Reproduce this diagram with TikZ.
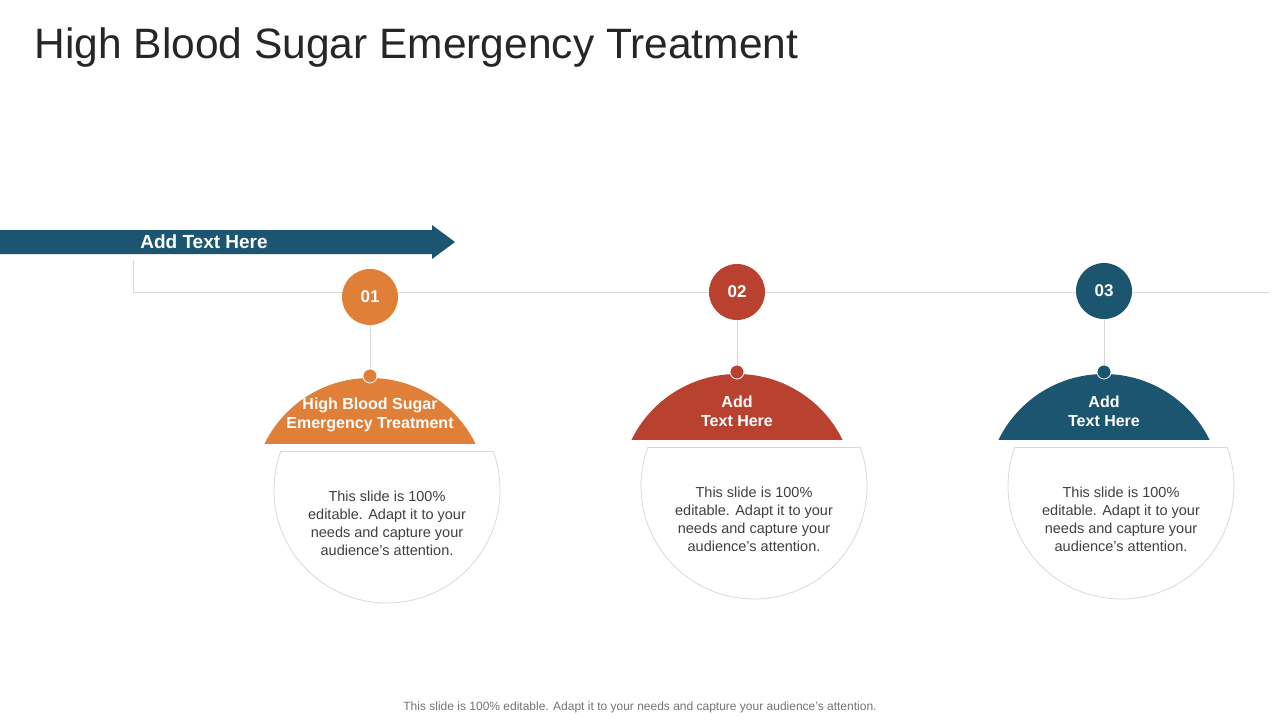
\documentclass[tikz,border=0pt]{standalone}
\usepackage{fontspec}
\setmainfont{Liberation Sans}
\usetikzlibrary{positioning,calc}
\definecolor{corange}{HTML}{E07F38}
\definecolor{cred}{HTML}{B94130}
\definecolor{cblue}{HTML}{1B5570}
\definecolor{ctext}{HTML}{404040}
\definecolor{cline}{HTML}{D9D9D9}
\begin{document}
\begin{tikzpicture}[x=1pt,y=-1pt,
    num/.style={circle, minimum size=56pt, inner sep=0pt, text=white,
                font=\fontsize{17}{20}\selectfont\bfseries},
    dot/.style={circle, draw=white, line width=0.8pt, minimum size=14pt, inner sep=0pt},
    dtxt/.style={align=center, text=white, font=\fontsize{16}{19}\selectfont\bfseries},
    btxt/.style={align=center, text=ctext, font=\fontsize{14.5}{18}\selectfont},
    ln/.style={draw=cline, line width=0.8pt},
]
\useasboundingbox (0,0) rectangle (1280,720);

% === Title ===
\node[anchor=west, text=black!85, font=\fontsize{42.5}{48}\selectfont] (title) at (31,48) {High Blood Sugar Emergency Treatment};

% === Arrow banner ===
\fill[cblue] (0,230) -- (432,230) -- (432,225) -- (455,242) -- (432,259) -- (432,254) -- (0,254) -- cycle;
\node[text=white, font=\fontsize{19}{22}\selectfont\bfseries] (head) at (204,242) {Add Text Here};

% --- timeline ---
\coordinate (t0) at (133,260);
\coordinate (t1) at (1270,292);
\draw[ln] (t0) |- (t1);

% === Three columns ===
\foreach \i/\cx/\cy/\dy/\col/\lab in {
    1/370/297/4/corange/{High Blood Sugar\\Emergency Treatment},
    2/737/292/0/cred/{Add\\Text Here},
    3/1104/291/0/cblue/{Add\\Text Here}}{
  % dome (circle segment)
  \begin{scope}
    \clip (\cx-130,300) rectangle (\cx+130,439+\dy);
    \fill[\col] (\cx,491.5+\dy) circle[radius=117.5];
  \end{scope}
  % lower cut circle
  \begin{scope}
    \clip (\cx-200,447+\dy) rectangle (\cx+200,700);
    \draw[ln, fill=white] (\cx+17,486+\dy) circle[radius=113];
  \end{scope}
  \draw[ln] (\cx+17-106,447+\dy) -- (\cx+17+106,447+\dy);
  \node[num, fill=\col] (n\i) at (\cx,\cy) {0\i};
  \node[dot, fill=\col] (d\i) at (\cx,372+\dy) {};
  \draw[ln] (n\i) -- (d\i);
  \node[dtxt] (h\i) at (\cx,411+\dy) {\lab};
  \node[btxt] (b\i) at (\cx+17,519+\dy) {This slide is 100\%\\editable. Adapt it to your\\needs and capture your\\audience's attention.};
}

% --- footer ---
\node[text=black!55, font=\fontsize{12}{14}\selectfont] (foot) at (640,707) {This slide is 100\% editable. Adapt it to your needs and capture your audience's attention.};
\end{tikzpicture}
\end{document}
